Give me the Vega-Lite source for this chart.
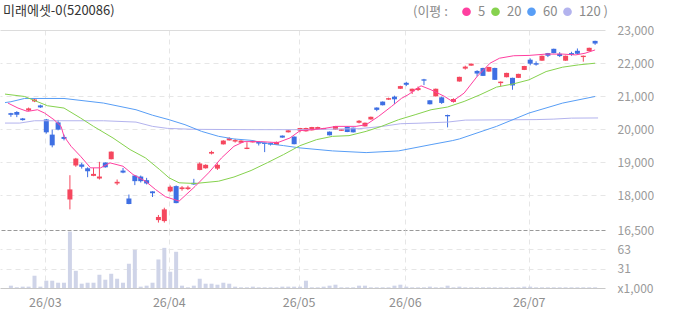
{
  "$schema": "https://vega.github.io/schema/vega-lite/v6.json",
  "background": "white",
  "padding": {"left": 0, "top": 5, "right": 0, "bottom": 0},
  "bounds": "flush",
  "title": {"text": "미래에셋-0(520086)", "anchor": "start", "frame": "group", "fontSize": 13, "fontWeight": "normal", "color": "#333333", "font": "Noto Sans CJK KR", "dx": 3, "offset": -13},
  "config": {
    "view": {"stroke": null},
    "font": "Noto Sans CJK KR",
    "axis": {"labelFont": "Noto Sans CJK KR", "labelColor": "#9a9a9a", "labelFontSize": 12, "ticks": false, "domain": false, "title": null, "labelOverlap": false}
  },
  "spacing": 0,
  "datasets": {
    "candles": [
      {"i":1,"o":20480,"h":20490,"l":20370,"c":20430,"v":3.8},
      {"i":2,"o":20515,"h":20540,"l":20360,"c":20433,"v":1.1},
      {"i":3,"o":20320,"h":20335,"l":20255,"c":20270,"v":2.2},
      {"i":4,"o":20560,"h":20650,"l":20545,"c":20625,"v":2.2},
      {"i":5,"o":20835,"h":20915,"l":20815,"c":20895,"v":20},
      {"i":6,"o":20715,"h":20735,"l":20640,"c":20655,"v":2.2},
      {"i":7,"o":20290,"h":20305,"l":19860,"c":19900,"v":11.9},
      {"i":8,"o":19830,"h":19980,"l":19445,"c":19505,"v":11.9},
      {"i":9,"o":20200,"h":20275,"l":19960,"c":19980,"v":8.6},
      {"i":10,"o":19760,"h":19830,"l":19655,"c":19700,"v":8.6},
      {"i":11,"o":17865,"h":18600,"l":17565,"c":18170,"v":92},
      {"i":12,"o":18895,"h":19125,"l":18855,"c":19105,"v":28},
      {"i":13,"o":18925,"h":18975,"l":18800,"c":18855,"v":7},
      {"i":14,"o":18810,"h":18840,"l":18540,"c":18720,"v":8.6},
      {"i":15,"o":18580,"h":18820,"l":18570,"c":18640,"v":8.6},
      {"i":16,"o":18500,"h":19005,"l":18470,"c":18560,"v":21.6},
      {"i":17,"o":18985,"h":18990,"l":18830,"c":18840,"v":13.5},
      {"i":18,"o":19085,"h":19320,"l":19080,"c":19315,"v":23.2},
      {"i":19,"o":18350,"h":18470,"l":18300,"c":18400,"v":15.1},
      {"i":20,"o":18740,"h":18820,"l":18660,"c":18680,"v":8.6},
      {"i":21,"o":17895,"h":18015,"l":17720,"c":17725,"v":39.5},
      {"i":22,"o":18590,"h":18595,"l":18300,"c":18420,"v":62},
      {"i":23,"o":18560,"h":18590,"l":18380,"c":18420,"v":2.2},
      {"i":24,"o":18450,"h":18520,"l":18320,"c":18350,"v":3.8},
      {"i":25,"o":18110,"h":18115,"l":17940,"c":18055,"v":8.6},
      {"i":26,"o":17240,"h":17395,"l":17165,"c":17335,"v":46.5},
      {"i":27,"o":17210,"h":17615,"l":17165,"c":17565,"v":65.4},
      {"i":28,"o":18110,"h":18290,"l":18085,"c":18250,"v":26.5},
      {"i":29,"o":18270,"h":18290,"l":17750,"c":17755,"v":59},
      {"i":30,"o":18180,"h":18270,"l":18130,"c":18230,"v":3.8},
      {"i":31,"o":18180,"h":18280,"l":18150,"c":18230,"v":1.1},
      {"i":32,"o":18370,"h":18490,"l":18310,"c":18320,"v":3.8},
      {"i":33,"o":18760,"h":18990,"l":18750,"c":18955,"v":15.1},
      {"i":34,"o":18810,"h":18930,"l":18800,"c":18915,"v":7},
      {"i":35,"o":19255,"h":19340,"l":19230,"c":19305,"v":7},
      {"i":36,"o":18800,"h":18960,"l":18760,"c":18915,"v":5.4},
      {"i":37,"o":19535,"h":19660,"l":19530,"c":19650,"v":8.6},
      {"i":38,"o":19655,"h":19750,"l":19650,"c":19720,"v":7},
      {"i":39,"o":19620,"h":19700,"l":19590,"c":19665,"v":2.2},
      {"i":40,"o":19585,"h":19660,"l":19580,"c":19650,"v":1.1},
      {"i":41,"o":19395,"h":19600,"l":19390,"c":19435,"v":1.1},
      {"i":42,"o":19595,"h":19660,"l":19590,"c":19645,"v":2.2},
      {"i":43,"o":19610,"h":19615,"l":19500,"c":19560,"v":1.1},
      {"i":44,"o":19585,"h":19590,"l":19300,"c":19545,"v":1.1},
      {"i":45,"o":19580,"h":19585,"l":19500,"c":19530,"v":1.1},
      {"i":46,"o":19520,"h":19620,"l":19515,"c":19610,"v":1.1},
      {"i":47,"o":19800,"h":19805,"l":19735,"c":19740,"v":2.2},
      {"i":48,"o":19900,"h":19970,"l":19895,"c":19960,"v":2.2},
      {"i":49,"o":19770,"h":19775,"l":19535,"c":19540,"v":2.2},
      {"i":50,"o":19950,"h":20035,"l":19900,"c":20030,"v":2.2},
      {"i":51,"o":19930,"h":20040,"l":19920,"c":20030,"v":11.9},
      {"i":52,"o":19960,"h":20065,"l":19955,"c":20060,"v":1.1},
      {"i":53,"o":20000,"h":20070,"l":19990,"c":20060,"v":1.1},
      {"i":54,"o":19990,"h":20035,"l":19985,"c":20030,"v":2.2},
      {"i":55,"o":19920,"h":19925,"l":19805,"c":19810,"v":3.8},
      {"i":56,"o":19980,"h":20095,"l":19975,"c":20090,"v":5.4},
      {"i":57,"o":19945,"h":19995,"l":19940,"c":19990,"v":1.1},
      {"i":58,"o":20070,"h":20075,"l":19905,"c":19910,"v":1.1},
      {"i":59,"o":20040,"h":20045,"l":19895,"c":19900,"v":1.1},
      {"i":60,"o":20190,"h":20270,"l":20170,"c":20250,"v":3.8},
      {"i":61,"o":20080,"h":20195,"l":20075,"c":20190,"v":3.8},
      {"i":62,"o":20290,"h":20375,"l":20285,"c":20370,"v":1.1},
      {"i":63,"o":20650,"h":20655,"l":20540,"c":20580,"v":1.1},
      {"i":64,"o":20830,"h":20835,"l":20715,"c":20720,"v":1.1},
      {"i":65,"o":20890,"h":20950,"l":20880,"c":20935,"v":1.1},
      {"i":66,"o":20980,"h":21010,"l":20760,"c":20900,"v":3.8},
      {"i":67,"o":21220,"h":21310,"l":21215,"c":21300,"v":5.4},
      {"i":68,"o":21400,"h":21430,"l":21300,"c":21340,"v":2.2},
      {"i":69,"o":21140,"h":21225,"l":21060,"c":21220,"v":1.1},
      {"i":70,"o":21180,"h":21290,"l":21150,"c":21240,"v":1.1},
      {"i":71,"o":21505,"h":21520,"l":21330,"c":21465,"v":1.1},
      {"i":72,"o":20870,"h":20875,"l":20745,"c":20750,"v":2.2},
      {"i":73,"o":20990,"h":21225,"l":20985,"c":21220,"v":1.1},
      {"i":74,"o":20960,"h":20980,"l":20760,"c":20790,"v":1.1},
      {"i":75,"o":20425,"h":20435,"l":20050,"c":20385,"v":3.8},
      {"i":76,"o":20820,"h":20930,"l":20800,"c":20910,"v":1.1},
      {"i":77,"o":21440,"h":21585,"l":21435,"c":21580,"v":2.2},
      {"i":78,"o":21830,"h":21920,"l":21800,"c":21890,"v":1.1},
      {"i":79,"o":21920,"h":21985,"l":21915,"c":21980,"v":1.1},
      {"i":80,"o":21760,"h":21780,"l":21590,"c":21680,"v":1.1},
      {"i":81,"o":21850,"h":21855,"l":21605,"c":21610,"v":1.1},
      {"i":82,"o":21740,"h":21885,"l":21735,"c":21880,"v":1.1},
      {"i":83,"o":21850,"h":21855,"l":21485,"c":21490,"v":1.1},
      {"i":84,"o":21390,"h":21440,"l":21290,"c":21435,"v":1.1},
      {"i":85,"o":21570,"h":21705,"l":21565,"c":21700,"v":1.1},
      {"i":86,"o":21550,"h":21555,"l":21190,"c":21320,"v":1.1},
      {"i":87,"o":21550,"h":21675,"l":21545,"c":21670,"v":1.1},
      {"i":88,"o":21790,"h":21915,"l":21785,"c":21910,"v":2.2},
      {"i":89,"o":22100,"h":22140,"l":21930,"c":21980,"v":2.2},
      {"i":90,"o":21995,"h":22050,"l":21920,"c":21950,"v":1.1},
      {"i":91,"o":22070,"h":22225,"l":22065,"c":22220,"v":1.1},
      {"i":92,"o":22300,"h":22305,"l":22180,"c":22220,"v":1.1},
      {"i":93,"o":22430,"h":22435,"l":22295,"c":22300,"v":1.1},
      {"i":94,"o":22280,"h":22330,"l":22180,"c":22210,"v":1.1},
      {"i":95,"o":22070,"h":22225,"l":22065,"c":22220,"v":1.1},
      {"i":96,"o":22300,"h":22340,"l":22220,"c":22250,"v":1.1},
      {"i":97,"o":22370,"h":22440,"l":22270,"c":22280,"v":1.1},
      {"i":98,"o":22180,"h":22225,"l":22040,"c":22220,"v":1.1},
      {"i":99,"o":22360,"h":22465,"l":22355,"c":22460,"v":1.1},
      {"i":100,"o":22670,"h":22675,"l":22550,"c":22590,"v":1.1}
    ],
    "ma": [
      {"s":"120","i":0,"v":20180},{"s":"120","i":2.5,"v":20180},{"s":"120","i":5,"v":20250},{"s":"120","i":16.7,"v":20250},{"s":"120","i":22.2,"v":20210},{"s":"120","i":25,"v":20080},{"s":"120","i":27.5,"v":20020},{"s":"120","i":32,"v":19990},{"s":"120","i":41.7,"v":19980},{"s":"120","i":50,"v":19980},{"s":"120","i":60,"v":20010},{"s":"120","i":64,"v":20080},{"s":"120","i":67,"v":20160},{"s":"120","i":70,"v":20175},{"s":"120","i":75,"v":20210},{"s":"120","i":78,"v":20270},{"s":"120","i":90,"v":20285},{"s":"120","i":93,"v":20300},{"s":"120","i":96,"v":20330},{"s":"120","i":100.5,"v":20335},
      {"s":"60","i":0,"v":20800},{"s":"60","i":1,"v":20826},{"s":"60","i":3.3,"v":20925},{"s":"60","i":10,"v":20925},{"s":"60","i":16.7,"v":20786},{"s":"60","i":22.2,"v":20584},{"s":"60","i":25,"v":20418},{"s":"60","i":27.8,"v":20282},{"s":"60","i":30.5,"v":20131},{"s":"60","i":33.3,"v":19929},{"s":"60","i":36.2,"v":19778},{"s":"60","i":38.8,"v":19699},{"s":"60","i":41.7,"v":19657},{"s":"60","i":44.5,"v":19557},{"s":"60","i":47.2,"v":19497},{"s":"60","i":50,"v":19427},{"s":"60","i":55.5,"v":19337},{"s":"60","i":61.2,"v":19285},{"s":"60","i":66.7,"v":19337},{"s":"60","i":72.2,"v":19527},{"s":"60","i":75.8,"v":19648},{"s":"60","i":77,"v":19699},{"s":"60","i":83.3,"v":20080},{"s":"60","i":88.8,"v":20484},{"s":"60","i":94.5,"v":20786},{"s":"60","i":100,"v":20986},
      {"s":"20","i":0,"v":21058},{"s":"20","i":3.3,"v":20986},{"s":"20","i":7.2,"v":20705},{"s":"20","i":10,"v":20635},{"s":"20","i":12.8,"v":20333},{"s":"20","i":15,"v":20080},{"s":"20","i":18.3,"v":19729},{"s":"20","i":21.2,"v":19376},{"s":"20","i":23.8,"v":19125},{"s":"20","i":26.2,"v":18772},{"s":"20","i":27.8,"v":18521},{"s":"20","i":29.5,"v":18370},{"s":"20","i":32.2,"v":18349},{"s":"20","i":36.2,"v":18419},{"s":"20","i":38.8,"v":18545},{"s":"20","i":41.7,"v":18742},{"s":"20","i":44.5,"v":18983},{"s":"20","i":47.2,"v":19225},{"s":"20","i":50,"v":19497},{"s":"20","i":52.8,"v":19678},{"s":"20","i":55.5,"v":19778},{"s":"20","i":58.3,"v":19799},{"s":"20","i":61.2,"v":19929},{"s":"20","i":63.8,"v":20080},{"s":"20","i":66.7,"v":20282},{"s":"20","i":69.5,"v":20433},{"s":"20","i":72.2,"v":20584},{"s":"20","i":75,"v":20666},{"s":"20","i":77.8,"v":20835},{"s":"20","i":80.5,"v":21037},{"s":"20","i":83.3,"v":21270},{"s":"20","i":86.2,"v":21369},{"s":"20","i":88.8,"v":21490},{"s":"20","i":91.7,"v":21741},{"s":"20","i":94.5,"v":21874},{"s":"20","i":97.2,"v":21943},{"s":"20","i":100,"v":21994},
      {"s":"5","i":0.5,"v":20786},{"s":"5","i":2.2,"v":20635},{"s":"5","i":3.8,"v":20533},{"s":"5","i":5.5,"v":20584},{"s":"5","i":6.7,"v":20484},{"s":"5","i":8.3,"v":20282},{"s":"5","i":9.5,"v":20080},{"s":"5","i":10,"v":19778},{"s":"5","i":11.2,"v":19476},{"s":"5","i":12.8,"v":19174},{"s":"5","i":14.5,"v":18823},{"s":"5","i":16.2,"v":18823},{"s":"5","i":17.8,"v":18974},{"s":"5","i":20,"v":18872},{"s":"5","i":21.7,"v":18621},{"s":"5","i":23.8,"v":18419},{"s":"5","i":25.5,"v":18168},{"s":"5","i":27.2,"v":17948},{"s":"5","i":29.5,"v":17815},{"s":"5","i":32.2,"v":18259},{"s":"5","i":34.5,"v":18672},{"s":"5","i":36.7,"v":19125},{"s":"5","i":38.8,"v":19476},{"s":"5","i":40.5,"v":19618},{"s":"5","i":43.3,"v":19618},{"s":"5","i":46.2,"v":19587},{"s":"5","i":48.3,"v":19729},{"s":"5","i":50,"v":19950},{"s":"5","i":53.8,"v":20010},{"s":"5","i":56.2,"v":20080},{"s":"5","i":59.5,"v":20080},{"s":"5","i":61.2,"v":20131},{"s":"5","i":63.3,"v":20382},{"s":"5","i":65.5,"v":20684},{"s":"5","i":67.2,"v":20930},{"s":"5","i":68.3,"v":21037},{"s":"5","i":70.5,"v":21309},{"s":"5","i":72.2,"v":21188},{"s":"5","i":74.5,"v":20986},{"s":"5","i":75.8,"v":20835},{"s":"5","i":77.8,"v":21088},{"s":"5","i":80,"v":21590},{"s":"5","i":82.2,"v":21994},{"s":"5","i":83.8,"v":22145},{"s":"5","i":86.2,"v":22220},{"s":"5","i":88.8,"v":22230},{"s":"5","i":91.7,"v":22270},{"s":"5","i":94.5,"v":22270},{"s":"5","i":96.7,"v":22245},{"s":"5","i":98.3,"v":22296},{"s":"5","i":100,"v":22396}
    ]
  },
  "vconcat": [
    {
      "width": 605,
      "height": 200,
      "layer": [
        {
          "data": {"name": "candles"},
          "mark": {"type": "rule", "strokeWidth": 1},
          "encoding": {
            "x": {"field": "i", "type": "quantitative", "scale": {"domain": [0, 100.83], "nice": false, "zero": false},
                  "axis": {"values": [6.75, 27.75, 49.75, 67.75, 88.75], "tickCount": 20, "labels": false, "grid": true, "gridColor": "#e6e6e6", "gridDash": [5, 4], "minExtent": 0, "maxExtent": 0}},
            "y": {"field": "l", "type": "quantitative", "scale": {"domain": [16940, 23000], "nice": false, "zero": false},
                  "axis": {"orient": "right", "values": [16940, 18000, 19000, 20000, 21000, 22000, 23000], "tickCount": 20, "labelPadding": 12, "labelOverlap": false, "labelBound": false, "labelFlush": false,
                           "labelExpr": "datum.value < 17000 ? '16,500' : format(datum.value, ',')",
                           "grid": true,
                           "gridColor": {"condition": [{"test": "datum.value >= 23000", "value": "#dcdcdc"}, {"test": "datum.value < 17000", "value": "#999999"}], "value": "#e6e6e6"},
                           "gridDash": {"condition": [{"test": "datum.value >= 23000", "value": []}, {"test": "datum.value < 17000", "value": [4, 2]}], "value": [5, 4]}}},
            "y2": {"field": "h"},
            "color": {"condition": {"test": "datum.c >= datum.o", "value": "#f5475e"}, "value": "#3e6fe3"}
          }
        },
        {
          "data": {"name": "candles"},
          "mark": {"type": "bar", "width": 5},
          "encoding": {
            "x": {"field": "i", "type": "quantitative"},
            "y": {"field": "o", "type": "quantitative"},
            "y2": {"field": "c"},
            "color": {"condition": {"test": "datum.c >= datum.o", "value": "#f5475e"}, "value": "#3e6fe3"}
          }
        },
        {
          "data": {"name": "ma"},
          "mark": {"type": "line", "strokeWidth": 1},
          "encoding": {
            "x": {"field": "i", "type": "quantitative"},
            "y": {"field": "v", "type": "quantitative"},
            "order": {"field": "i", "type": "quantitative"},
            "color": {"field": "s", "type": "nominal",
                      "scale": {"domain": ["5", "20", "60", "120"], "range": ["#ff3fa0", "#86d24e", "#589ef6", "#b3b3ee"]},
                      "legend": {"orient": "none", "legendX": 413, "legendY": -25, "direction": "horizontal",
                                 "title": "(이평 :", "titleOrient": "left", "titleFontWeight": "normal", "titleFontSize": 13, "titleColor": "#8a8a8a", "titlePadding": 12,
                                 "labelFontSize": 13, "labelColor": "#8a8a8a", "labelOffset": 5, "columnPadding": 3,
                                 "symbolType": "circle", "symbolSize": 75, "symbolStrokeWidth": 0,
                                 "labelExpr": "datum.label == '120' ? '120 )' : datum.label",
                                 "encode": {"symbols": {"update": {"fill": {"scale": "color", "field": "value"}, "strokeWidth": {"value": 0}}}}}}
          }
        },
        {
          "mark": {"type": "text", "text": "THINK", "fontSize": 11, "fontWeight": "bold", "color": "#b4b4b4", "align": "left", "baseline": "middle"},
          "encoding": {"x": {"datum": 1.7, "type": "quantitative"}, "y": {"datum": 22560, "type": "quantitative"}}
        },
        {
          "mark": {"type": "text", "text": "POOL", "fontSize": 11, "fontWeight": "bold", "color": "#c3d6f2", "align": "left", "baseline": "middle"},
          "encoding": {"x": {"datum": 9.3, "type": "quantitative"}, "y": {"datum": 22560, "type": "quantitative"}}
        }
      ]
    },
    {
      "width": 605,
      "height": 58,
      "data": {"name": "candles"},
      "mark": {"type": "bar", "width": 4, "color": "#cfd4e8"},
      "encoding": {
        "x": {"field": "i", "type": "quantitative", "scale": {"domain": [0, 100.83], "nice": false, "zero": false},
              "axis": {"values": [6.75, 27.75, 49.75, 67.75, 88.75], "tickCount": 20, "grid": true, "gridColor": "#e6e6e6", "gridDash": [5, 4], "labelPadding": 8, "labelFontSize": 12.5, "labelColor": "#8f8f8f", "labelOverlap": false,
                       "labelExpr": "datum.value < 10 ? '26/03' : datum.value < 30 ? '26/04' : datum.value < 50 ? '26/05' : datum.value < 70 ? '26/06' : '26/07'"}},
        "y": {"field": "v", "type": "quantitative", "scale": {"domain": [0, 94.5], "nice": false, "zero": true},
              "axis": {"orient": "right", "values": [0, 31.5, 63], "tickCount": 10, "labelPadding": 12, "labelOverlap": false,
                       "labelExpr": "datum.value == 0 ? 'x1,000' : datum.value > 60 ? '63' : '31'",
                       "grid": true,
                       "gridColor": {"condition": {"test": "datum.value == 0", "value": "#c8c8c8"}, "value": "#e6e6e6"},
                       "gridDash": {"condition": {"test": "datum.value == 0", "value": []}, "value": [5, 4]}}}
      }
    }
  ]
}
